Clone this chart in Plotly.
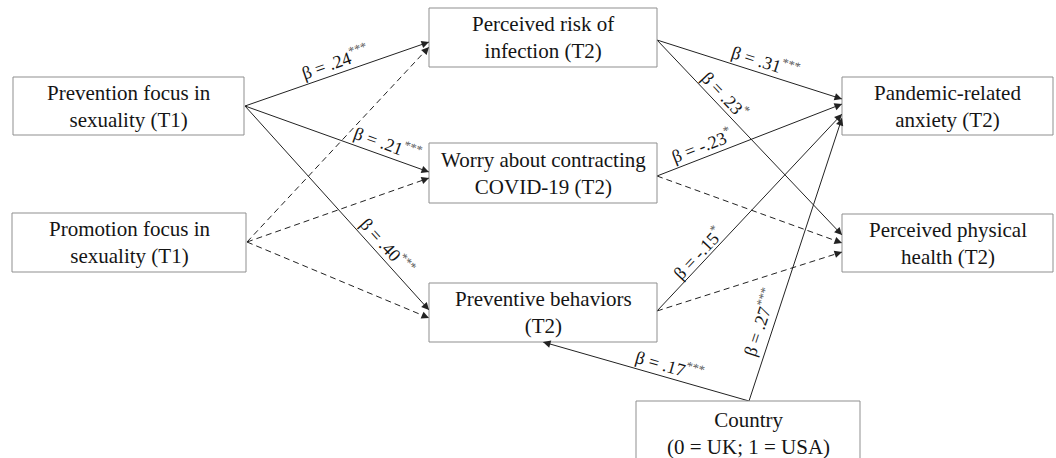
import math
import plotly.graph_objects as go

# ---------------- data ----------------
node_ids = ["prev", "prom", "risk", "worry", "behav", "anx", "health", "country"]
node_labels = {
    "prev": "Prevention focus in<br>sexuality (T1)",
    "prom": "Promotion focus in<br>sexuality (T1)",
    "risk": "Perceived risk of<br>infection (T2)",
    "worry": "Worry about contracting<br>COVID-19 (T2)",
    "behav": "Preventive behaviors<br>(T2)",
    "anx": "Pandemic-related<br>anxiety (T2)",
    "health": "Perceived physical<br>health (T2)",
    "country": "Country<br>(0 = UK; 1 = USA)",
}
path_src = ["prev", "prev", "prev", "prom", "prom", "prom",
            "risk", "risk", "worry", "worry", "behav", "behav",
            "country", "country"]
path_dst = ["risk", "worry", "behav", "risk", "worry", "behav",
            "anx", "health", "anx", "health", "anx", "health",
            "behav", "anx"]
path_beta = [".24", ".21", ".40", None, None, None,
             ".31", ".23", "-.23", None, "-.15", None,
             ".17", ".27"]
path_stars = ["***", "***", "***", "", "", "",
              "***", "*", "*", "", "*", "",
              "***", "***"]

# ---------------- layout (pixel positions) ----------------
W, H = 1056, 458
boxes = {  # x0, y0, x1, y1
    "prev": (13, 77, 244, 135),
    "prom": (12, 213, 246, 272),
    "risk": (429, 8, 657, 67),
    "worry": (429, 143, 657, 203),
    "behav": (429, 283, 657, 342),
    "anx": (842, 77, 1053, 135),
    "health": (842, 214, 1053, 272),
    "country": (636, 401, 860, 475),
}
text_pos = {k: ((b[0] + b[2]) / 2, (b[1] + b[3]) / 2) for k, b in boxes.items()}
text_pos["country"] = (748, 433)

path_start = [(245, 106), (245, 106), (245, 106), (247, 242), (247, 242), (247, 242),
              (657, 40), (657, 40), (657, 176), (657, 176), (657, 311), (657, 311),
              (749, 401), (749, 401)]
path_end = [(429, 42), (429, 172), (429, 310), (429, 47), (429, 178), (429, 318),
            (842, 99), (842, 235), (842, 104), (842, 243), (842, 114), (842, 252),
            (543, 342), (842, 118)]
label_pos = [(335, 61), (388, 143), (388, 246), None, None, None,
             (766, 61), (725, 94), (701, 145), None, (697, 253), None,
             (670, 365), (759, 322)]

FONT = "Liberation Serif, Times New Roman, serif"
LINE = "#222222"
BOX = "#8f8f8f"
TXT = "#151515"
STAR = "#555555"

fig = go.Figure()
fig.add_trace(go.Scatter(x=[0, W], y=[0, H], mode="markers",
                         marker=dict(opacity=0), hoverinfo="skip", showlegend=False))

shapes = []
annotations = []

for k in node_ids:
    x0, y0, x1, y1 = boxes[k]
    shapes.append(dict(type="rect", xref="x", yref="y", x0=x0, y0=y0, x1=x1, y1=y1,
                       line=dict(color=BOX, width=1), fillcolor="white", layer="above"))
    tx, ty = text_pos[k]
    annotations.append(dict(x=tx, y=ty, xref="x", yref="y", text=node_labels[k],
                            showarrow=False, font=dict(family=FONT, size=21, color=TXT),
                            align="center"))

for i in range(len(path_src)):
    (sx, sy), (ex, ey) = path_start[i], path_end[i]
    sig = path_beta[i] is not None
    shapes.append(dict(type="line", xref="x", yref="y", x0=sx, y0=sy, x1=ex, y1=ey,
                       line=dict(color=LINE, width=1, dash="solid" if sig else "6px,4px"),
                       layer="below"))
    L = math.hypot(ex - sx, ey - sy)
    ux, uy = (ex - sx) / L, (ey - sy) / L
    annotations.append(dict(x=ex, y=ey, ax=ex - ux * 7, ay=ey - uy * 7,
                            xref="x", yref="y", axref="x", ayref="y", text="",
                            showarrow=True, arrowhead=2, arrowsize=1.5, arrowwidth=1,
                            arrowcolor=LINE, standoff=0, startstandoff=0))
    if sig:
        ang = math.degrees(math.atan2(ey - sy, ex - sx))
        if ang > 90:
            ang -= 180
        elif ang < -90:
            ang += 180
        lx, ly = label_pos[i]
        annotations.append(dict(x=lx, y=ly, xref="x", yref="y",
                                text="β = " + path_beta[i] + "<sup><span style='color:" + STAR + "'>"
                                     + path_stars[i] + "</span></sup>",
                                showarrow=False, textangle=ang,
                                font=dict(family=FONT, size=18, color=TXT)))

fig.update_layout(
    width=W, height=H, margin=dict(l=0, r=0, t=0, b=0),
    paper_bgcolor="white", plot_bgcolor="white",
    xaxis=dict(range=[0, W], visible=False, fixedrange=True),
    yaxis=dict(range=[H, 0], visible=False, fixedrange=True),
    shapes=shapes, annotations=annotations, showlegend=False,
)
fig.write_html("out.html", config={"displayModeBar": False},
               post_script="document.body.style.margin='0';document.body.style.overflow='hidden';")
